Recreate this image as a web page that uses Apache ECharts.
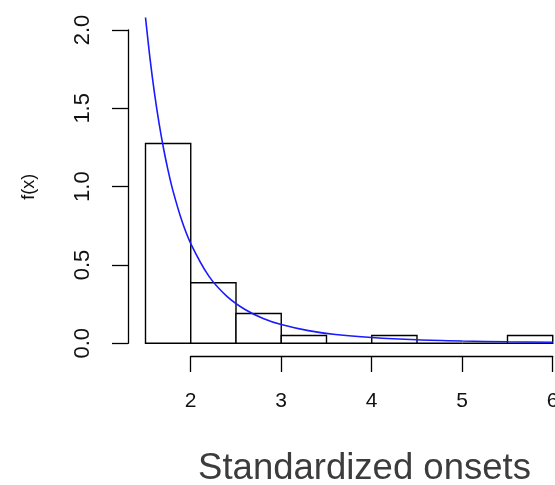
<!DOCTYPE html>
<html>
<head>
<meta charset="utf-8">
<script src="https://cdn.jsdelivr.net/npm/echarts@6/dist/echarts.min.js"></script>
<style>
html,body{margin:0;padding:0;background:#fff;}
#chart{width:555px;height:485px;}
</style>
</head>
<body>
<div id="chart"></div>
<script>
// Histogram bins (density scale)
const binStarts = [1.5, 2.0, 2.5, 3.0, 3.5, 4.0, 4.5, 5.0, 5.5];
const binEnds   = [2.0, 2.5, 3.0, 3.5, 4.0, 4.5, 5.0, 5.5, 6.0];
const density   = [1.276, 0.387, 0.19, 0.05, 0, 0.05, 0, 0, 0.05];

// Fitted density curve
const curveX = [1.5, 1.55, 1.6, 1.65, 1.7, 1.75, 1.8, 1.9, 2.0, 2.2, 2.4, 2.6, 2.8, 3.0, 3.3, 3.6, 4.0, 4.5, 5.0, 5.5, 6.0];
const curveY = [2.08, 1.817, 1.594, 1.404, 1.242, 1.102, 0.981, 0.785, 0.637, 0.429, 0.300, 0.216, 0.159, 0.120, 0.081, 0.056, 0.037, 0.0225, 0.0146, 0.0098, 0.0069];

// Axis ticks
const xTicks = [2, 3, 4, 5, 6];
const yTicks = [0, 0.5, 1.0, 1.5, 2.0];

const xLabel = 'Standardized onsets';
const yLabel = 'f(x)';

const chart = echarts.init(document.getElementById('chart'));
const FONT = '"Liberation Sans", Arial, sans-serif';

const barData = binStarts.map((s, i) => [s, binEnds[i], density[i]]);
const lineData = curveX.map((x, i) => [x, curveY[i]]);

const option = {
  animation: false,
  backgroundColor: '#fff',
  title: {
    text: xLabel,
    left: 359.5,
    top: 445,
    textAlign: 'center',
    textStyle: { fontFamily: FONT, fontSize: 36.5, fontWeight: 'normal', color: '#3c3c3c' }
  },
  grid: [
    { left: 145.5, right: 0, top: 10, bottom: 141.7, outerBoundsMode: 'none', containLabel: false },
    { left: 190.7, right: 2.3, top: 300, bottom: 129, outerBoundsMode: 'none', containLabel: false },
    { left: 128, width: 10, top: 30, bottom: 141.7, outerBoundsMode: 'none', containLabel: false }
  ],
  xAxis: [
    { gridIndex: 0, type: 'value', min: 1.5, max: 6.025, show: false },
    {
      gridIndex: 1, type: 'value', min: xTicks[0], max: xTicks[xTicks.length - 1], interval: 1,
      axisLine: { show: true, lineStyle: { color: '#000', width: 1.3 } },
      axisTick: { show: true, length: 16, lineStyle: { color: '#000', width: 1.3 } },
      axisLabel: { show: true, margin: 35, fontFamily: FONT, fontSize: 21, color: '#111',
        formatter: v => xTicks.includes(v) ? String(v) : '' , showMinLabel: true, showMaxLabel: true},
      splitLine: { show: false }
    },
    { gridIndex: 2, type: 'value', show: false }
  ],
  yAxis: [
    { gridIndex: 0, type: 'value', min: 0, max: 2.128, show: false },
    { gridIndex: 1, type: 'value', show: false },
    {
      gridIndex: 2, type: 'value', min: yTicks[0], max: yTicks[yTicks.length - 1], interval: 0.5,
      axisLine: { show: true, lineStyle: { color: '#000', width: 1.3 } },
      axisTick: { show: true, length: 16, lineStyle: { color: '#000', width: 1.3 } },
      axisLabel: { show: true, rotate: 90, margin: 34, fontFamily: FONT, fontSize: 22, color: '#111',
        formatter: v => v.toFixed(1), showMinLabel: true, showMaxLabel: true },
      splitLine: { show: false },
      name: yLabel, nameLocation: 'middle', nameRotate: 90, nameGap: 90,
      nameTextStyle: { fontFamily: FONT, fontSize: 18, color: '#111' }
    }
  ],
  series: [
    {
      type: 'custom',
      xAxisIndex: 0, yAxisIndex: 0,
      data: barData,
      renderItem: function (params, api) {
        const p0 = api.coord([api.value(0), 0]);
        const p1 = api.coord([api.value(1), api.value(2)]);
        return {
          type: 'rect',
          shape: { x: p0[0], y: p1[1], width: p1[0] - p0[0], height: p0[1] - p1[1] },
          style: { fill: '#fff', stroke: '#000', lineWidth: 1.4 }
        };
      },
      z: 1
    },
    {
      type: 'line',
      xAxisIndex: 0, yAxisIndex: 0,
      data: lineData,
      smooth: 0.3,
      showSymbol: false,
      lineStyle: { color: '#1a1aff', width: 1.6 },
      z: 3
    }
  ]
};
chart.setOption(option);
</script>
</body>
</html>
